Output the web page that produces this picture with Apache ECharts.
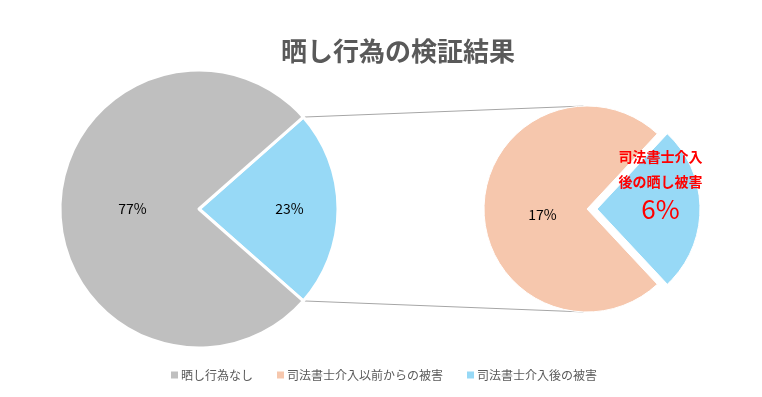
<!DOCTYPE html>
<html>
<head>
<meta charset="utf-8">
<script src="https://cdn.jsdelivr.net/npm/echarts@6/dist/echarts.min.js"></script>
<style>
  html, body { margin: 0; padding: 0; background: #fff; }
  #chart { width: 762px; height: 397px; }
</style>
</head>
<body>
<div id="chart"></div>
<script>
// data
const titleText = '晒し行為の検証結果';
const mainNames = ['司法書士介入後の被害', '晒し行為なし'];
const mainValues = [23, 77];
const subNames = ['司法書士介入後の被害', '司法書士介入以前からの被害'];
const subValues = [6, 17];
const legendNames = ['晒し行為なし', '司法書士介入以前からの被害', '司法書士介入後の被害'];

const colGray = '#bfbfbf';
const colBlue = '#97d9f6';
const colPeach = '#f6c7ad';
const font = '"Noto Sans CJK JP", "Noto Sans", sans-serif';

// geometry
const mainC = [199, 209], mainR = 139;
const subC = [587, 209], subR = 103;
const mainTotal = mainValues[0] + mainValues[1];
const subTotal = subValues[0] + subValues[1];
const mainStart = mainValues[0] / mainTotal * 180;
const subStart = subValues[0] / subTotal * 180;

function pt(c, r, deg) {
  const a = deg * Math.PI / 180;
  return [c[0] + r * Math.cos(a), c[1] - r * Math.sin(a)];
}
const p1 = pt(mainC, mainR, mainStart), p2 = pt(mainC, mainR, -mainStart);
const q1 = pt(subC, subR, 92), q2 = pt(subC, subR, -92);

const chart = echarts.init(document.getElementById('chart'), null, { renderer: 'canvas' });

const option = {
  animation: false,
  title: {
    text: titleText,
    left: 276,
    top: 33,
    textStyle: { fontFamily: font, fontSize: 26, fontWeight: 'bold', color: '#595959' }
  },
  legend: {
    data: legendNames,
    bottom: 11,
    left: 166,
    itemWidth: 7,
    itemHeight: 7,
    itemGap: 24,
    icon: 'rect',
    itemStyle: { borderWidth: 0 },
    textStyle: { fontFamily: font, fontSize: 12, color: '#595959', padding: [0, 0, 0, -2] }
  },
  graphic: [
    { type: 'line', shape: { x1: p1[0], y1: p1[1], x2: q1[0], y2: q1[1] }, style: { stroke: '#a6a6a6', lineWidth: 1 }, z: 0 },
    { type: 'line', shape: { x1: p2[0], y1: p2[1], x2: q2[0], y2: q2[1] }, style: { stroke: '#a6a6a6', lineWidth: 1 }, z: 0 }
  ],
  series: [
    {
      type: 'pie',
      center: mainC,
      radius: [0, mainR],
      startAngle: mainStart,
      clockwise: true,
      legendHoverLink: false,
      emphasis: { disabled: true },
      itemStyle: { borderColor: '#fff', borderWidth: 3 },
      label: {
        position: 'inside',
        formatter: '{c}%',
        fontFamily: font,
        fontSize: 14,
        color: '#000'
      },
      labelLayout: function (p) {
        return p.dataIndex === 0 ? { dx: 18 } : { dx: 6 };
      },
      data: [
        { name: 'その他', value: mainValues[0], itemStyle: { color: colBlue } },
        { name: mainNames[1], value: mainValues[1], itemStyle: { color: colGray } }
      ]
    },
    {
      type: 'pie',
      center: subC,
      radius: [0, subR],
      startAngle: subStart,
      clockwise: true,
      selectedMode: 'single',
      selectedOffset: 10,
      emphasis: { disabled: true },
      itemStyle: { borderColor: '#fff', borderWidth: 1 },
      label: {
        position: 'inside',
        formatter: '{c}%',
        fontFamily: font,
        fontSize: 14,
        color: '#000'
      },
      labelLayout: function (p) {
        return p.dataIndex === 0 ? { dx: 9, dy: -25 } : { dx: 10, dy: 6 };
      },
      data: [
        {
          name: subNames[0], value: subValues[0], selected: true,
          itemStyle: { color: colBlue },
          label: {
            formatter: '{a|司法書士介入}\n{a|後の晒し被害}\n{b|{c}%}',
            rich: {
              a: { fontFamily: font, fontSize: 14, fontWeight: 'bold', color: '#ff0000', lineHeight: 25 },
              b: { fontFamily: font, fontSize: 26, color: '#ff0000', lineHeight: 30 }
            }
          }
        },
        { name: subNames[1], value: subValues[1], itemStyle: { color: colPeach } }
      ]
    }
  ]
};

chart.setOption(option);
</script>
</body>
</html>
